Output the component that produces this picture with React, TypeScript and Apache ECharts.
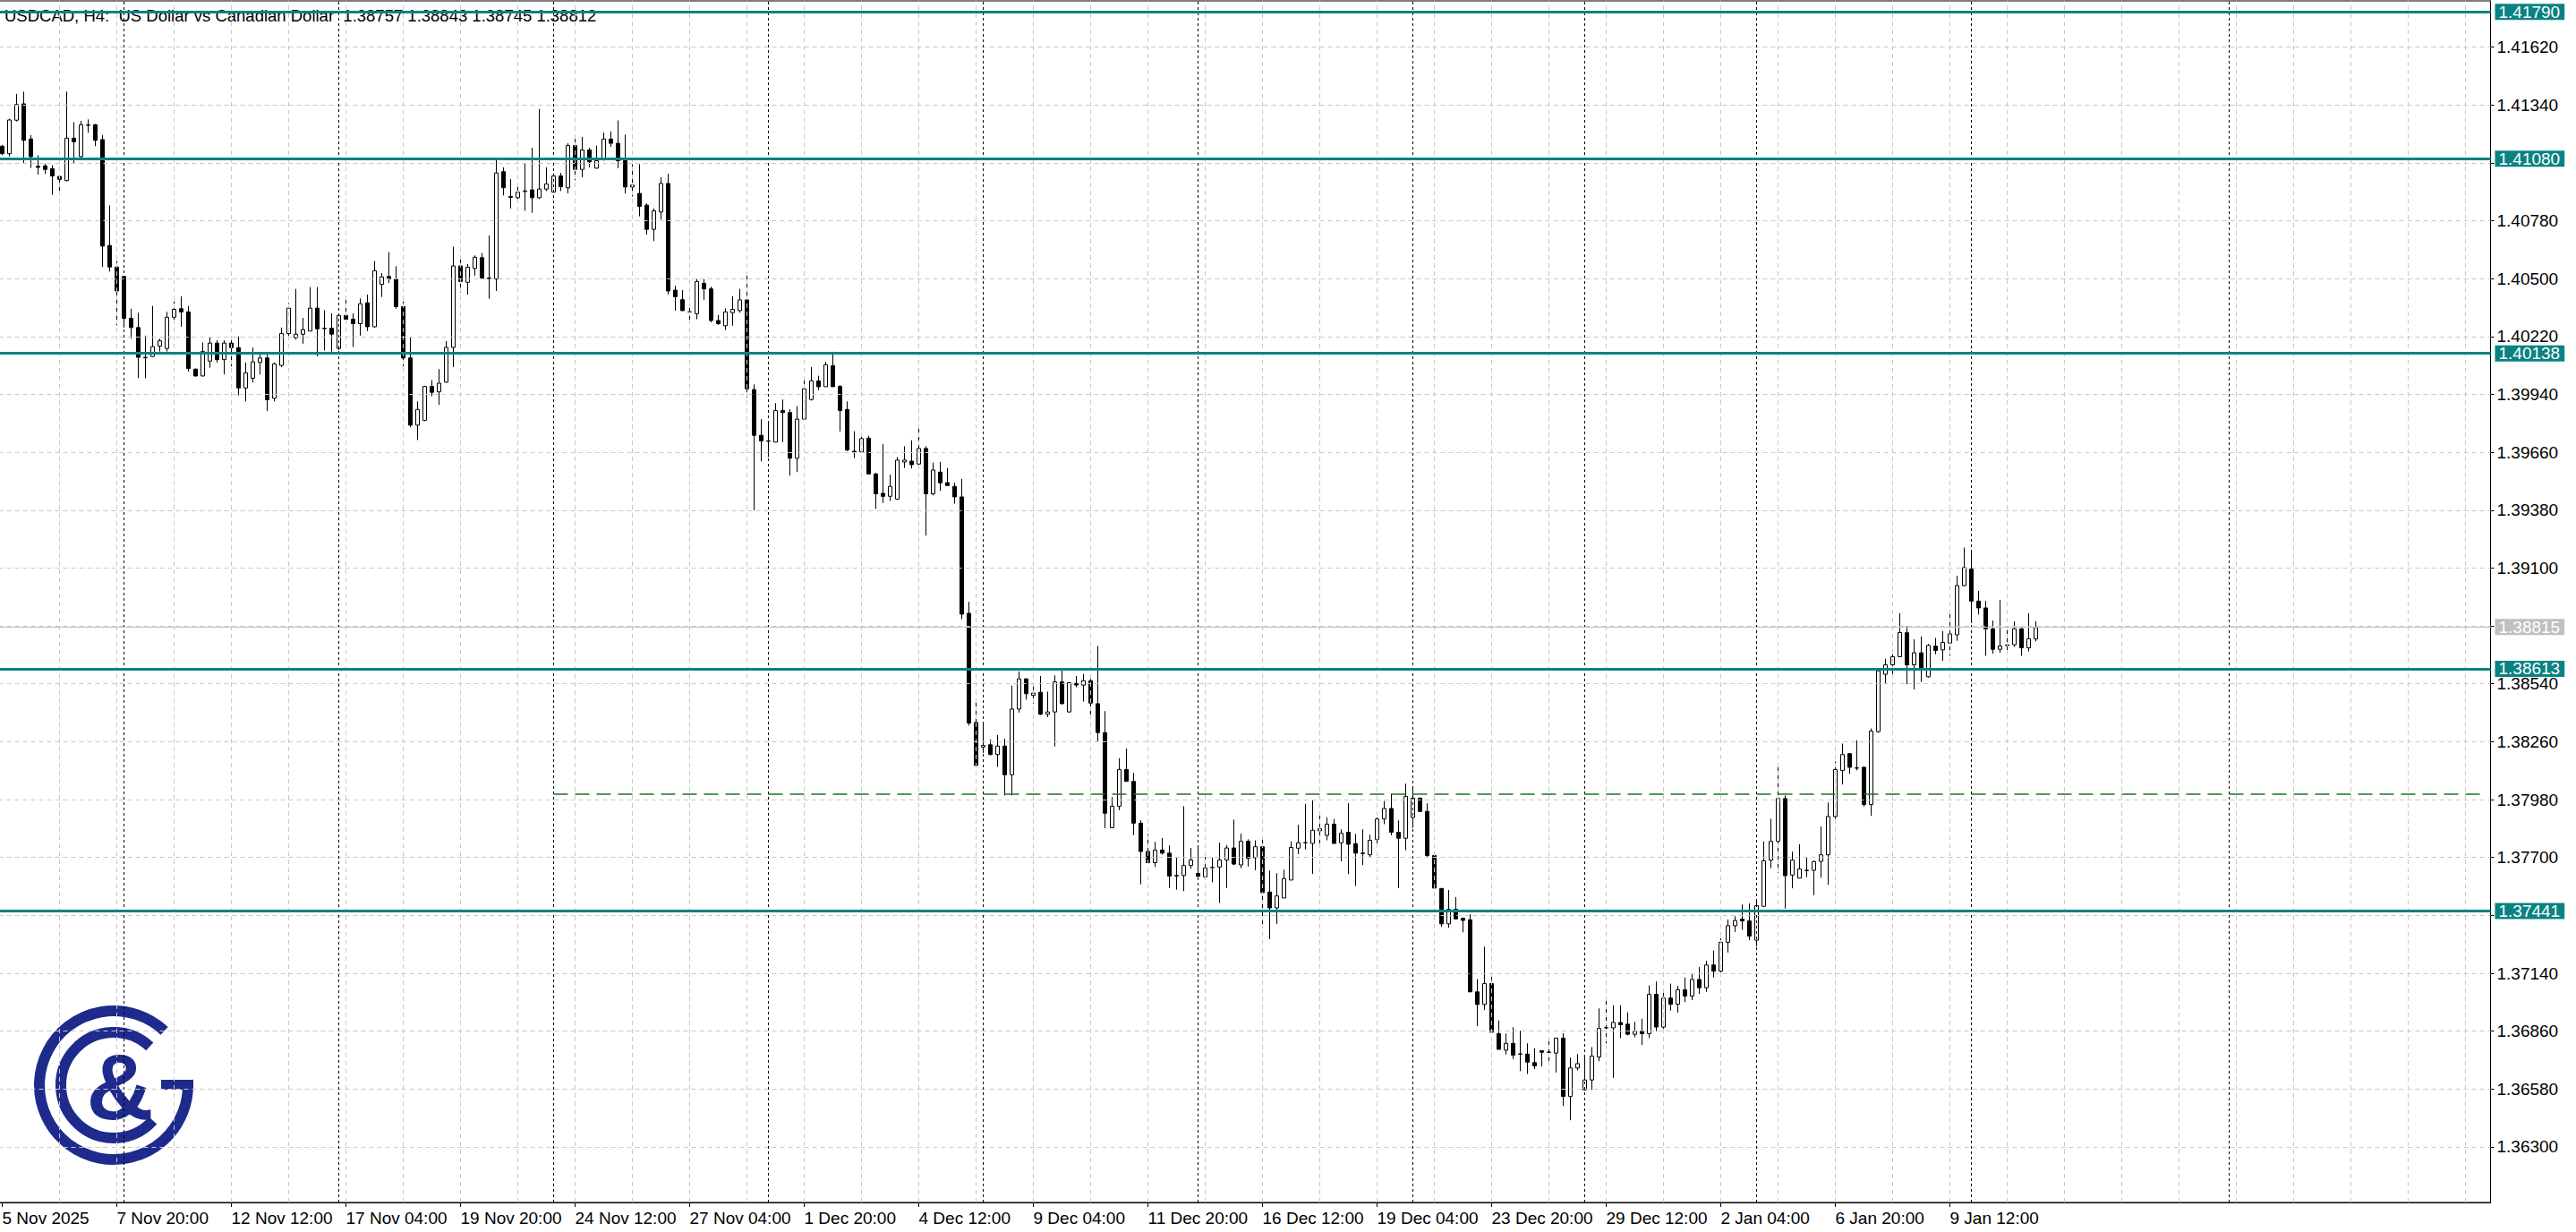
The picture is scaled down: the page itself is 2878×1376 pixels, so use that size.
import React, { useEffect, useRef } from 'react';
import * as echarts from 'echarts';

const WIDTH = 2878;
const HEIGHT = 1376;

const chartTitle = 'USDCAD, H4:  US Dollar vs Canadian Dollar  1.38757 1.38843 1.38745 1.38812';

const opens = [
  1.41140, 1.41104, 1.41266, 1.41345, 1.41175, 1.41043, 1.41045, 1.41031, 1.40994, 1.40974,
  1.41179, 1.41090, 1.41241, 1.41244, 1.41172, 1.40660, 1.40556, 1.40510, 1.40308, 1.40263,
  1.40119, 1.40123, 1.40173, 1.40162, 1.40313, 1.40354, 1.40339, 1.40062, 1.40029, 1.40101,
  1.40188, 1.40108, 1.40188, 1.40166, 1.39971, 1.40018, 1.40094, 1.40116, 1.39921, 1.40080,
  1.40234, 1.40214, 1.40231, 1.40246, 1.40357, 1.40260, 1.40260, 1.40162, 1.40322, 1.40303,
  1.40282, 1.40383, 1.40267, 1.40472, 1.40510, 1.40499, 1.40364, 1.40116, 1.39791, 1.39814,
  1.39978, 1.39952, 1.39999, 1.40167, 1.40561, 1.40482, 1.40549, 1.40601, 1.40503, 1.40498,
  1.41017, 1.40897, 1.40891, 1.40921, 1.40929, 1.40891, 1.40933, 1.40918, 1.40996, 1.40939,
  1.41143, 1.41028, 1.41122, 1.41034, 1.41080, 1.41175, 1.41154, 1.41070, 1.40943, 1.40912,
  1.40855, 1.40738, 1.40822, 1.40960, 1.40444, 1.40398, 1.40339, 1.40330, 1.40477, 1.40450,
  1.40297, 1.40272, 1.40335, 1.40345, 1.40397, 1.39963, 1.39742, 1.39715, 1.39709, 1.39862,
  1.39852, 1.39631, 1.39820, 1.39915, 1.40005, 1.39977, 1.40078, 1.39978, 1.39867, 1.39665,
  1.39661, 1.39728, 1.39555, 1.39461, 1.39447, 1.39433, 1.39613, 1.39617, 1.39603, 1.39678,
  1.39459, 1.39564, 1.39513, 1.39495, 1.39444, 1.38881, 1.38353, 1.38234, 1.38245, 1.38198,
  1.38239, 1.38100, 1.38418, 1.38564, 1.38484, 1.38499, 1.38393, 1.38404, 1.38549, 1.38404,
  1.38542, 1.38534, 1.38555, 1.38444, 1.38304, 1.37844, 1.37948, 1.38126, 1.38068, 1.37866,
  1.37729, 1.37675, 1.37736, 1.37721, 1.37613, 1.37613, 1.37661, 1.37623, 1.37606, 1.37652,
  1.37654, 1.37688, 1.37746, 1.37664, 1.37778, 1.37699, 1.37752, 1.37533, 1.37456, 1.37504,
  1.37591, 1.37745, 1.37771, 1.37768, 1.37829, 1.37807, 1.37861, 1.37771, 1.37822, 1.37767,
  1.37721, 1.37713, 1.37788, 1.37886, 1.37937, 1.37822, 1.37793, 1.37894, 1.37987, 1.37923,
  1.37710, 1.37550, 1.37379, 1.37449, 1.37406, 1.37399, 1.37050, 1.36989, 1.37090, 1.36848,
  1.36768, 1.36801, 1.36749, 1.36749, 1.36708, 1.36765, 1.36758, 1.36754, 1.36826, 1.36544,
  1.36682, 1.36576, 1.36624, 1.36735, 1.36876, 1.36876, 1.36902, 1.36894, 1.36845, 1.36859,
  1.36848, 1.37038, 1.36880, 1.37020, 1.36990, 1.37060, 1.37030, 1.37110, 1.37070, 1.37180,
  1.37150, 1.37290, 1.37370, 1.37402, 1.37393, 1.37300, 1.37464, 1.37687, 1.37778, 1.37985,
  1.37615, 1.37600, 1.37638, 1.37638, 1.37681, 1.37713, 1.37898, 1.38121, 1.38202, 1.38133,
  1.38136, 1.37956, 1.38309, 1.38586, 1.38632, 1.38671, 1.38787, 1.38632, 1.38690, 1.38574,
  1.38722, 1.38704, 1.38737, 1.38777, 1.39015, 1.39095, 1.38940, 1.38907, 1.38806, 1.38707,
  1.38728, 1.38729, 1.38806, 1.38714, 1.38757,
];

const highs = [
  1.41147, 1.41273, 1.41393, 1.41404, 1.41194, 1.41097, 1.41056, 1.41049, 1.41003, 1.41404,
  1.41256, 1.41263, 1.41270, 1.41248, 1.41194, 1.40854, 1.40585, 1.40512, 1.40354, 1.40335,
  1.40224, 1.40368, 1.40209, 1.40339, 1.40390, 1.40414, 1.40368, 1.40065, 1.40191, 1.40217,
  1.40202, 1.40202, 1.40220, 1.40220, 1.40094, 1.40166, 1.40133, 1.40145, 1.40094, 1.40263,
  1.40383, 1.40450, 1.40310, 1.40459, 1.40459, 1.40347, 1.40332, 1.40325, 1.40397, 1.40332,
  1.40404, 1.40422, 1.40585, 1.40527, 1.40628, 1.40560, 1.40390, 1.40217, 1.39906, 1.39982,
  1.40009, 1.40062, 1.40198, 1.40654, 1.40608, 1.40570, 1.40612, 1.40624, 1.40708, 1.41074,
  1.41038, 1.40981, 1.40944, 1.41059, 1.41133, 1.41320, 1.41038, 1.41007, 1.41011, 1.41154,
  1.41179, 1.41185, 1.41133, 1.41143, 1.41206, 1.41212, 1.41265, 1.41196, 1.41053, 1.41053,
  1.40864, 1.40839, 1.40990, 1.41007, 1.40465, 1.40444, 1.40377, 1.40498, 1.40498, 1.40461,
  1.40324, 1.40356, 1.40414, 1.40450, 1.40513, 1.39988, 1.39820, 1.39799, 1.39898, 1.39915,
  1.39868, 1.39883, 1.40009, 1.40072, 1.40030, 1.40097, 1.40146, 1.39985, 1.39906, 1.39762,
  1.39754, 1.39740, 1.39560, 1.39700, 1.39552, 1.39636, 1.39689, 1.39718, 1.39779, 1.39689,
  1.39610, 1.39613, 1.39584, 1.39513, 1.39531, 1.38936, 1.38463, 1.38357, 1.38271, 1.38292,
  1.38275, 1.38531, 1.38599, 1.38566, 1.38531, 1.38578, 1.38502, 1.38581, 1.38603, 1.38548,
  1.38578, 1.38588, 1.38564, 1.38723, 1.38408, 1.37992, 1.38180, 1.38227, 1.38109, 1.37880,
  1.37813, 1.37775, 1.37794, 1.37758, 1.37700, 1.37948, 1.37746, 1.37750, 1.37703, 1.37700,
  1.37772, 1.37760, 1.37883, 1.37815, 1.37788, 1.37783, 1.37803, 1.37637, 1.37624, 1.37641,
  1.37778, 1.37858, 1.37959, 1.37980, 1.37923, 1.37894, 1.37886, 1.37836, 1.37962, 1.37814,
  1.37836, 1.37810, 1.37894, 1.37973, 1.38009, 1.37879, 1.38057, 1.38038, 1.37990, 1.37962,
  1.37716, 1.37552, 1.37543, 1.37508, 1.37410, 1.37425, 1.37112, 1.37269, 1.37129, 1.36912,
  1.36848, 1.36879, 1.36862, 1.36801, 1.36778, 1.36768, 1.36819, 1.36829, 1.36850, 1.36732,
  1.36749, 1.36735, 1.36783, 1.36970, 1.37013, 1.36985, 1.36985, 1.36951, 1.36905, 1.36920,
  1.37081, 1.37100, 1.37060, 1.37090, 1.37080, 1.37120, 1.37140, 1.37170, 1.37200, 1.37250,
  1.37310, 1.37400, 1.37416, 1.37473, 1.37478, 1.37489, 1.37778, 1.37887, 1.38151, 1.38000,
  1.37728, 1.37764, 1.37701, 1.37685, 1.37850, 1.37966, 1.38164, 1.38251, 1.38205, 1.38267,
  1.38140, 1.38324, 1.38610, 1.38661, 1.38704, 1.38882, 1.38820, 1.38755, 1.38769, 1.38733,
  1.38762, 1.38795, 1.38897, 1.39062, 1.39199, 1.39182, 1.38989, 1.38940, 1.38846, 1.38946,
  1.38806, 1.38842, 1.38810, 1.38881, 1.38843,
];

const lows = [
  1.41097, 1.41090, 1.41260, 1.41056, 1.41035, 1.41003, 1.41006, 1.40905, 1.40909, 1.40970,
  1.41056, 1.41086, 1.41205, 1.41140, 1.40556, 1.40534, 1.40274, 1.40263, 1.40209, 1.40018,
  1.40018, 1.40121, 1.40147, 1.40147, 1.40289, 1.40267, 1.40051, 1.40026, 1.40026, 1.40069,
  1.40094, 1.40036, 1.40075, 1.39935, 1.39906, 1.39997, 1.40036, 1.39859, 1.39906, 1.40072,
  1.40209, 1.40205, 1.40185, 1.40246, 1.40124, 1.40152, 1.40147, 1.40155, 1.40289, 1.40169,
  1.40224, 1.40246, 1.40263, 1.40411, 1.40479, 1.40354, 1.40075, 1.39781, 1.39719, 1.39810,
  1.39931, 1.39889, 1.39997, 1.40072, 1.40433, 1.40423, 1.40513, 1.40498, 1.40402, 1.40440,
  1.40902, 1.40839, 1.40870, 1.40828, 1.40818, 1.40885, 1.40923, 1.40918, 1.40923, 1.40912,
  1.40975, 1.40990, 1.41038, 1.41032, 1.41070, 1.41137, 1.41034, 1.40912, 1.40897, 1.40801,
  1.40713, 1.40681, 1.40786, 1.40423, 1.40345, 1.40343, 1.40293, 1.40303, 1.40397, 1.40288,
  1.40276, 1.40251, 1.40272, 1.40335, 1.39925, 1.39379, 1.39616, 1.39637, 1.39709, 1.39709,
  1.39547, 1.39564, 1.39814, 1.39910, 1.39961, 1.39977, 1.39977, 1.39760, 1.39665, 1.39632,
  1.39656, 1.39552, 1.39386, 1.39415, 1.39425, 1.39430, 1.39584, 1.39581, 1.39584, 1.39257,
  1.39451, 1.39473, 1.39498, 1.39411, 1.38852, 1.38338, 1.38141, 1.38206, 1.38194, 1.38138,
  1.38000, 1.38000, 1.38401, 1.38463, 1.38444, 1.38389, 1.38379, 1.38237, 1.38440, 1.38401,
  1.38523, 1.38454, 1.38382, 1.38259, 1.37841, 1.37841, 1.37928, 1.38068, 1.37808, 1.37570,
  1.37671, 1.37654, 1.37714, 1.37552, 1.37544, 1.37537, 1.37645, 1.37606, 1.37599, 1.37580,
  1.37480, 1.37552, 1.37664, 1.37648, 1.37656, 1.37638, 1.37374, 1.37305, 1.37379, 1.37504,
  1.37591, 1.37716, 1.37739, 1.37620, 1.37757, 1.37783, 1.37768, 1.37682, 1.37620, 1.37562,
  1.37663, 1.37703, 1.37757, 1.37861, 1.37807, 1.37552, 1.37735, 1.37843, 1.37920, 1.37699,
  1.37552, 1.37364, 1.37360, 1.37400, 1.37338, 1.37050, 1.36884, 1.36963, 1.36855, 1.36772,
  1.36747, 1.36725, 1.36667, 1.36653, 1.36677, 1.36689, 1.36703, 1.36660, 1.36498, 1.36429,
  1.36670, 1.36573, 1.36576, 1.36715, 1.36801, 1.36634, 1.36826, 1.36840, 1.36830, 1.36793,
  1.36826, 1.36860, 1.36870, 1.36960, 1.36950, 1.37000, 1.37010, 1.37040, 1.37050, 1.37120,
  1.37130, 1.37240, 1.37340, 1.37350, 1.37300, 1.37270, 1.37460, 1.37648, 1.37626, 1.37453,
  1.37551, 1.37600, 1.37605, 1.37518, 1.37602, 1.37568, 1.37887, 1.38053, 1.38104, 1.38121,
  1.37945, 1.37901, 1.38303, 1.38538, 1.38581, 1.38671, 1.38538, 1.38512, 1.38549, 1.38570,
  1.38683, 1.38651, 1.38675, 1.38748, 1.39012, 1.38834, 1.38875, 1.38675, 1.38685, 1.38690,
  1.38685, 1.38719, 1.38675, 1.38697, 1.38745,
];

const closes = [
  1.41104, 1.41267, 1.41342, 1.41169, 1.41090, 1.41038, 1.41028, 1.40996, 1.40980, 1.41179,
  1.41162, 1.41244, 1.41243, 1.41169, 1.40657, 1.40556, 1.40440, 1.40308, 1.40263, 1.40119,
  1.40117, 1.40171, 1.40199, 1.40313, 1.40351, 1.40339, 1.40065, 1.40029, 1.40147, 1.40188,
  1.40108, 1.40188, 1.40166, 1.39971, 1.40044, 1.40097, 1.40116, 1.39914, 1.40087, 1.40234,
  1.40357, 1.40231, 1.40253, 1.40357, 1.40257, 1.40258, 1.40231, 1.40322, 1.40303, 1.40282,
  1.40378, 1.40267, 1.40538, 1.40508, 1.40498, 1.40364, 1.40116, 1.39791, 1.39867, 1.39978,
  1.39950, 1.39994, 1.40167, 1.40561, 1.40486, 1.40555, 1.40603, 1.40503, 1.40500, 1.41011,
  1.40939, 1.40893, 1.40918, 1.40924, 1.40891, 1.40933, 1.40958, 1.40996, 1.40944, 1.41143,
  1.41028, 1.41122, 1.41065, 1.41070, 1.41175, 1.41154, 1.41070, 1.40943, 1.40952, 1.40849,
  1.40738, 1.40828, 1.40960, 1.40440, 1.40412, 1.40345, 1.40339, 1.40486, 1.40450, 1.40297,
  1.40282, 1.40339, 1.40351, 1.40397, 1.39967, 1.39742, 1.39715, 1.39713, 1.39862, 1.39852,
  1.39631, 1.39820, 1.39967, 1.40005, 1.39977, 1.40083, 1.39977, 1.39862, 1.39671, 1.39661,
  1.39726, 1.39555, 1.39459, 1.39447, 1.39495, 1.39622, 1.39622, 1.39600, 1.39678, 1.39459,
  1.39574, 1.39512, 1.39499, 1.39444, 1.38877, 1.38350, 1.38145, 1.38242, 1.38198, 1.38239,
  1.38100, 1.38418, 1.38564, 1.38492, 1.38495, 1.38393, 1.38404, 1.38549, 1.38444, 1.38545,
  1.38534, 1.38555, 1.38447, 1.38304, 1.37914, 1.37948, 1.38126, 1.38068, 1.37866, 1.37729,
  1.37675, 1.37736, 1.37721, 1.37610, 1.37611, 1.37661, 1.37688, 1.37609, 1.37649, 1.37651,
  1.37688, 1.37746, 1.37668, 1.37778, 1.37696, 1.37752, 1.37530, 1.37456, 1.37514, 1.37598,
  1.37749, 1.37771, 1.37772, 1.37832, 1.37839, 1.37861, 1.37768, 1.37817, 1.37764, 1.37721,
  1.37719, 1.37783, 1.37886, 1.37937, 1.37822, 1.37793, 1.37995, 1.37987, 1.37923, 1.37710,
  1.37552, 1.37379, 1.37449, 1.37403, 1.37396, 1.37050, 1.36989, 1.37090, 1.36855, 1.36772,
  1.36801, 1.36744, 1.36750, 1.36710, 1.36692, 1.36758, 1.36759, 1.36826, 1.36544, 1.36682,
  1.36703, 1.36624, 1.36739, 1.36873, 1.36877, 1.36902, 1.36891, 1.36845, 1.36859, 1.36848,
  1.37038, 1.36880, 1.37020, 1.36990, 1.37060, 1.37030, 1.37110, 1.37070, 1.37180, 1.37150,
  1.37290, 1.37370, 1.37395, 1.37393, 1.37320, 1.37467, 1.37684, 1.37778, 1.37985, 1.37612,
  1.37687, 1.37644, 1.37637, 1.37680, 1.37713, 1.37898, 1.38125, 1.38198, 1.38136, 1.38132,
  1.37956, 1.38311, 1.38603, 1.38632, 1.38671, 1.38788, 1.38632, 1.38690, 1.38617, 1.38726,
  1.38701, 1.38740, 1.38781, 1.39015, 1.39102, 1.38940, 1.38907, 1.38806, 1.38707, 1.38723,
  1.38725, 1.38806, 1.38714, 1.38758, 1.38812,
];

// price-axis grid / tick values
const priceTicks = [
  1.36300, 1.36580, 1.36860, 1.37140, 1.37420, 1.37700, 1.37980, 1.38260, 1.38540, 1.38820,
  1.39100, 1.39380, 1.39660, 1.39940, 1.40220, 1.40500, 1.40780, 1.41060, 1.41340, 1.41620,
];
// tick labels that are not fully hidden behind a price tag in the reference
const priceLabels = [
  1.36300, 1.36580, 1.36860, 1.37140, 1.37700, 1.37980, 1.38260, 1.38540,
  1.39100, 1.39380, 1.39660, 1.39940, 1.40220, 1.40500, 1.40780, 1.41340, 1.41620,
];

// horizontal level lines (teal) with their price tags
const levelLines = [1.41790, 1.41080, 1.40138, 1.38613, 1.37441];
const bidPrice = 1.38815;
const dashedLevel = 1.38008;
const dashedLevelStartBar = 77;

// week separators (bar index of Monday 00:00, last one is in the empty future area)
const weekSeparators = [17, 47, 77, 107, 137, 167, 197, 221, 245, 275, 311];

const holidays = ['2025-12-25', '2026-01-01'];
const TOTAL_SLOTS = 348;
const LABEL_EVERY = 16;
const GRID_EVERY = 8;
const MONTHS = ['Jan', 'Feb', 'Mar', 'Apr', 'May', 'Jun', 'Jul', 'Aug', 'Sep', 'Oct', 'Nov', 'Dec'];

function buildCategories(): string[] {
  const out: string[] = [];
  let t = Date.UTC(2025, 10, 5, 4);
  while (out.length < TOTAL_SLOTS) {
    const d = new Date(t);
    const dow = d.getUTCDay();
    const key = d.toISOString().slice(0, 10);
    if (dow !== 0 && dow !== 6 && holidays.indexOf(key) < 0) {
      const hh = String(d.getUTCHours()).padStart(2, '0');
      out.push(`${d.getUTCDate()} ${MONTHS[d.getUTCMonth()]} ${hh}:00`);
    }
    t += 4 * 3600 * 1000;
  }
  out[0] = '5 Nov 2025';
  return out;
}

const Y_MAX = 1.41843;
const Y_MIN = 1.360315;
const TEAL = '#0a8282';
const GRID_GRAY = '#c8c8c8';
const LOGO_BLUE = '#1e2a8c';
const FONT = "'Liberation Sans', Arial, sans-serif";

function buildOption() {
  const categories = buildCategories();
  const lastIndex = closes.length - 1;
  const labelInterval = (index: number) => index % LABEL_EVERY === 0 && index <= lastIndex;
  const candleData = opens.map((o, i) => [o, closes[i], lows[i], highs[i]]);

  const vGrid: number[] = [];
  for (let k = GRID_EVERY; k < TOTAL_SLOTS; k += GRID_EVERY) vGrid.push(k);

  const grayLine = { color: GRID_GRAY, type: [5, 4], width: 1 };
  const D = Math.PI / 180;

  const tagLabel = (text: string, bg: string) => ({
    show: true,
    position: 'end',
    distance: 5,
    formatter: text,
    color: '#ffffff',
    backgroundColor: bg,
    padding: [1, 5, 0, 4],
    lineHeight: 17,
    fontFamily: FONT,
    fontSize: 19,
  });

  return {
    animation: false,
    backgroundColor: '#ffffff',
    grid: {
      left: -1.5,
      top: 1,
      width: TOTAL_SLOTS * 8,
      height: 1342,
      show: true,
      borderColor: '#000000',
      borderWidth: 1,
      backgroundColor: 'transparent',
      containLabel: false,
      outerBoundsMode: 'none',
    },
    xAxis: {
      type: 'category',
      data: categories,
      boundaryGap: true,
      axisLine: { show: true, lineStyle: { color: '#000000', width: 1 } },
      axisTick: { show: true, alignWithLabel: true, interval: labelInterval, length: 5, lineStyle: { color: '#000000' } },
      axisLabel: {
        show: true,
        interval: labelInterval,
        align: 'left',
        margin: 8,
        color: '#000000',
        fontFamily: FONT,
        fontSize: 19,
      },
      splitLine: { show: false },
    },
    yAxis: {
      type: 'value',
      position: 'right',
      min: Y_MIN,
      max: Y_MAX,
      axisLine: { show: true, lineStyle: { color: '#000000', width: 1 } },
      axisTick: { show: true, customValues: priceTicks, length: 4, lineStyle: { color: '#000000' } },
      axisLabel: {
        show: true,
        customValues: priceLabels,
        formatter: (v: number) => v.toFixed(5),
        margin: 7,
        color: '#000000',
        fontFamily: FONT,
        fontSize: 19,
      },
      splitLine: { show: false },
    },
    graphic: [
      {
        type: 'text',
        left: 5,
        top: 8,
        z: 1,
        silent: true,
        style: { text: chartTitle, fontFamily: FONT, fontSize: 18.5, fill: '#000000' },
      },
      {
        type: 'group',
        z: 0,
        silent: true,
        children: [
          {
            type: 'arc',
            shape: { cx: 127, cy: 1212, r: 83, startAngle: -4 * D, endAngle: 313 * D, clockwise: true },
            style: { stroke: LOGO_BLUE, lineWidth: 12, fill: 'transparent' },
          },
          {
            type: 'arc',
            shape: { cx: 127, cy: 1212, r: 59, startAngle: 42 * D, endAngle: 313 * D, clockwise: true },
            style: { stroke: LOGO_BLUE, lineWidth: 12, fill: 'transparent' },
          },
          {
            type: 'rect',
            shape: { x: 180, y: 1206, width: 36, height: 11 },
            style: { fill: LOGO_BLUE },
          },
          {
            type: 'text',
            x: 134,
            y: 1214,
            style: {
              text: '&',
              align: 'center',
              verticalAlign: 'middle',
              fontFamily: FONT,
              fontWeight: 'bold',
              fontSize: 104,
              fill: LOGO_BLUE,
            },
          },
        ],
      },
    ],
    series: [
      {
        name: 'grid',
        type: 'line',
        data: [],
        z: 1,
        silent: true,
        markLine: {
          silent: true,
          precision: 10,
          symbol: ['none', 'none'],
          label: { show: false },
          emphasis: { disabled: true },
          data: [
            ...priceTicks.map((v) => ({ yAxis: v, lineStyle: grayLine })),
            ...vGrid.map((k) => ({ xAxis: k, lineStyle: grayLine })),
            ...weekSeparators.map((k) => ({ xAxis: k, lineStyle: { color: '#000000', type: [3, 3], width: 1 } })),
          ],
        },
      },
      {
        name: 'USDCAD',
        type: 'candlestick',
        z: 3,
        silent: true,
        barWidth: 4,
        data: candleData,
        itemStyle: {
          color: '#ffffff',
          color0: '#000000',
          borderColor: '#000000',
          borderColor0: '#000000',
          borderColorDoji: '#000000',
          borderWidth: 1,
        },
        emphasis: { disabled: true },
      },
      {
        name: 'levels',
        type: 'line',
        data: [],
        z: 5,
        silent: true,
        markLine: {
          silent: true,
          precision: 10,
          symbol: ['none', 'none'],
          emphasis: { disabled: true },
          data: [
            {
              yAxis: bidPrice,
              lineStyle: { color: '#c4c4c4', width: 1, type: 'solid' },
              label: tagLabel(bidPrice.toFixed(5), '#c0c0c0'),
            },
            ...levelLines.map((v) => ({
              yAxis: v,
              lineStyle: { color: TEAL, width: 3, type: 'solid' },
              label: tagLabel(v.toFixed(5), TEAL),
            })),
            [
              {
                coord: [dashedLevelStartBar, dashedLevel],
                lineStyle: { color: '#187a18', width: 1.5, type: [16, 8] },
                label: { show: false },
              },
              { coord: [TOTAL_SLOTS - 1, dashedLevel] },
            ],
          ],
        },
      },
    ],
  };
}

export default function App() {
  const ref = useRef<HTMLDivElement>(null);
  useEffect(() => {
    document.body.style.margin = '0';
    document.body.style.overflow = 'hidden';
    const el = ref.current;
    if (!el) return;
    const chart = echarts.init(el, undefined, { renderer: 'svg', width: WIDTH, height: HEIGHT });
    chart.setOption(buildOption() as any);
    return () => {
      chart.dispose();
    };
  }, []);
  return <div ref={ref} style={{ width: WIDTH, height: HEIGHT }} />;
}
